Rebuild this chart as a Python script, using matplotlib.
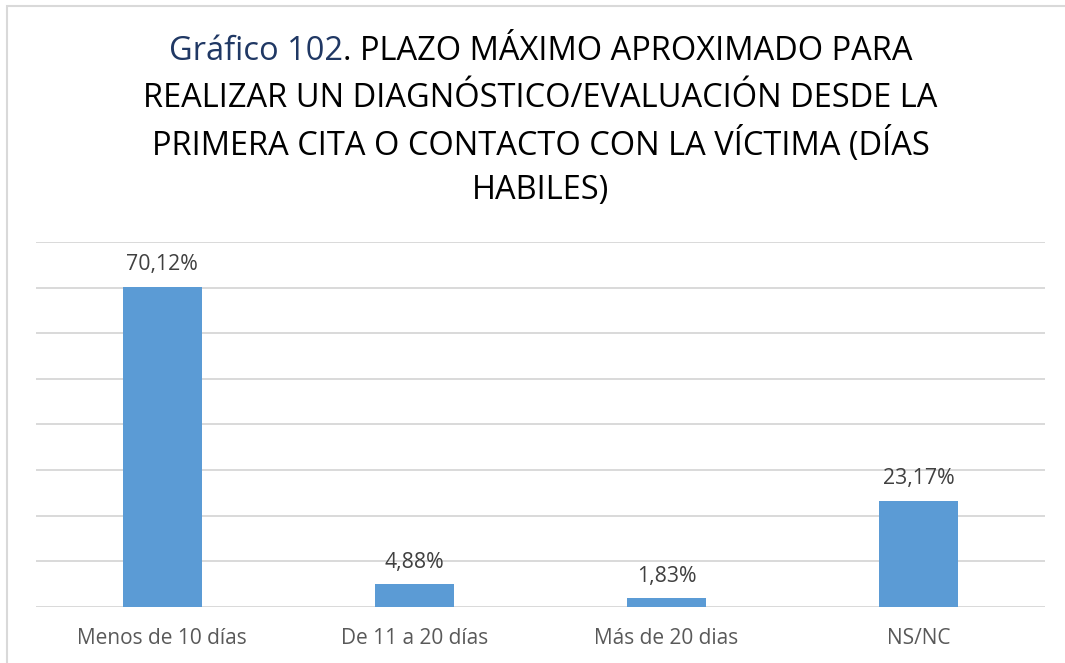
import matplotlib
matplotlib.use("Agg")
import matplotlib.pyplot as plt
from matplotlib.patches import Rectangle

plt.rcParams['font.family'] = ['Open Sans', 'DejaVu Sans']

# Datos
categorias = ['Menos de 10 días', 'De 11 a 20 días', 'Más de 20 dias', 'NS/NC']
porcentajes = [70.12, 4.88, 1.83, 23.17]
etiquetas = ['70,12%', '4,88%', '1,83%', '23,17%']

titulo_azul = 'Gráfico 102'
titulo_resto_1 = '. PLAZO MÁXIMO APROXIMADO PARA'
titulo_lineas = [
    'REALIZAR UN DIAGNÓSTICO/EVALUACIÓN DESDE LA',
    'PRIMERA CITA O CONTACTO CON LA VÍCTIMA (DÍAS',
    'HABILES)',
]

W, H = 1065, 663
fig = plt.figure(figsize=(W / 100, H / 100), dpi=100)
ax = fig.add_axes([36 / W, 1 - 606.7 / H, (1045 - 36) / W, (606.7 - 242) / H])

x = range(len(categorias))
ax.bar(x, porcentajes, width=0.313, color='#5B9BD5', zorder=3)
ax.set_xlim(-0.5, len(categorias) - 0.5)
ax.set_ylim(0, 80)
ax.set_yticks(range(0, 81, 10))
ax.yaxis.grid(True, color='#D9D9D9', linewidth=1.4, zorder=0)
ax.tick_params(axis='y', left=False, labelleft=False)
ax.tick_params(axis='x', bottom=False, pad=12, labelsize=15, labelcolor='#595959')
ax.set_xticks(list(x))
ax.set_xticklabels(categorias)
for s in ax.spines.values():
    s.set_visible(False)

for xi, v, lab in zip(x, porcentajes, etiquetas):
    ax.annotate(lab, (xi, v), xytext=(0, 8.5), textcoords='offset points',
                ha='center', va='bottom', fontsize=15.3, color='#404040')

# Título: primera parte en azul, resto en negro
fs_tit = 23.5
cx = (36 + 1045) / 2 / W
fig.canvas.draw()
r = fig.canvas.get_renderer()
t_a = fig.text(0, 0, titulo_azul, fontsize=fs_tit, color='#203864')
t_b = fig.text(0, 0, titulo_resto_1, fontsize=fs_tit, color='black')
wa = t_a.get_window_extent(r).width / W
wb = t_b.get_window_extent(r).width / W
x0 = cx - (wa + wb) / 2
y1 = 1 - 52 / H
t_a.set_position((x0, y1))
t_a.set_va('center')
t_b.set_position((x0 + wa, y1))
t_b.set_va('center')
for i, linea in enumerate(titulo_lineas):
    fig.text(cx, 1 - (98.5 + 46 * i) / H, linea, fontsize=fs_tit,
             color='black', ha='center', va='center')

# Marco del gráfico
fig.add_artist(Rectangle((6.5 / W, -0.1), 1.2, 1.1 - 6.5 / H,
                         transform=fig.transFigure, fill=False,
                         edgecolor='#D9D9D9', linewidth=1.5))

fig.savefig('out.png', dpi=100, facecolor='white')
